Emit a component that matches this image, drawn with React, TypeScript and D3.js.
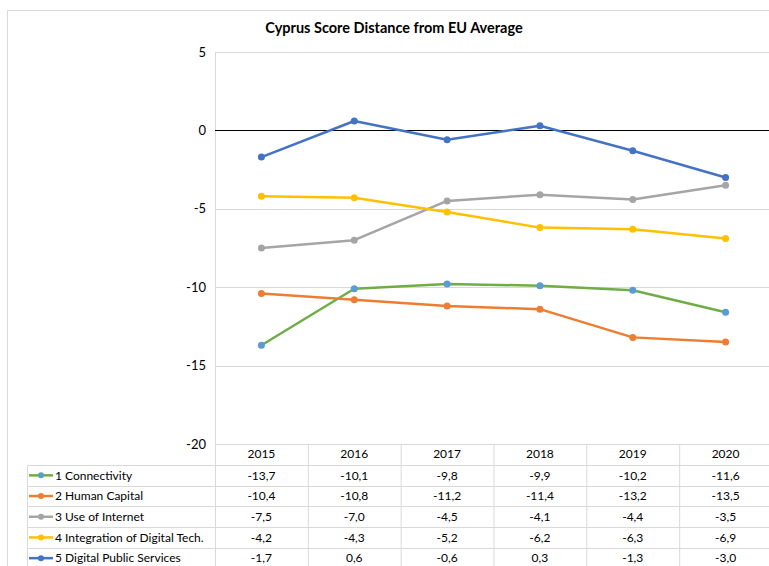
import React from "react";
import * as d3 from "d3";

const years = ["2015", "2016", "2017", "2018", "2019", "2020"];
const seriesNames = [
  "1 Connectivity",
  "2 Human Capital",
  "3 Use of Internet",
  "4 Integration of Digital Tech.",
  "5 Digital Public Services",
];
const connectivity = [-13.7, -10.1, -9.8, -9.9, -10.2, -11.6];
const humanCapital = [-10.4, -10.8, -11.2, -11.4, -13.2, -13.5];
const useOfInternet = [-7.5, -7.0, -4.5, -4.1, -4.4, -3.5];
const integration = [-4.2, -4.3, -5.2, -6.2, -6.3, -6.9];
const publicServices = [-1.7, 0.6, -0.6, 0.3, -1.3, -3.0];
const yTicks = [5, 0, -5, -10, -15, -20];

const lineColors = ["#70AD47", "#ED7D31", "#A5A5A5", "#FFC000", "#4472C4"];
const markerColors = ["#5B9BD5", "#ED7D31", "#A5A5A5", "#FFC000", "#4472C4"];

export default function App() {
  const W = 769, H = 566;
  const left = 215, right = 772;
  const top = 52, bottom = 444;
  const font = "Lato, 'Open Sans', sans-serif";
  const all = [connectivity, humanCapital, useOfInternet, integration, publicServices];

  const x = d3.scaleBand<string>().domain(years).range([left, right]);
  const y = d3.scaleLinear().domain([-20, 5]).range([bottom, top]);
  const cx = (yr: string) => (x(yr) as number) + x.bandwidth() / 2;

  const line = d3
    .line<number>()
    .x((_, i) => cx(years[i]))
    .y((d) => y(d));

  const tableLeft = 27;
  const rowH = 20.7;
  const headerBottom = 465;
  const fmt = (v: number) => v.toFixed(1).replace(".", ",");

  return (
    <svg
      width={W}
      height={H}
      style={{ position: "absolute", left: 0, top: 0, background: "#fff" }}
      fontFamily={font}
    >
      <rect x={0} y={0} width={W} height={H} fill="#fff" />
      {/* outer frame */}
      <line x1={7.5} y1={10.5} x2={W} y2={10.5} stroke="#d9d9d9" />
      <line x1={7.5} y1={10.5} x2={7.5} y2={H} stroke="#d9d9d9" />

      <text x={394} y={33} textAnchor="middle" fontSize={14.5} fontWeight="bold" fill="#000">
        Cyprus Score Distance from EU Average
      </text>

      {/* gridlines */}
      {yTicks.map((t) => (
        <g key={t}>
          {t !== 0 && (
            <line x1={left} x2={W} y1={Math.round(y(t)) + 0.5} y2={Math.round(y(t)) + 0.5} stroke="#d9d9d9" />
          )}
          <text x={206} y={y(t) + 4.5} textAnchor="end" fontSize={13} fill="#000">
            {t}
          </text>
        </g>
      ))}
      <line x1={left + 0.5} x2={left + 0.5} y1={top} y2={H} stroke="#d9d9d9" />

      {/* table */}
      {years.map((yr, i) => (
        <g key={yr}>
          <line
            x1={(x(yr) as number) + x.bandwidth() + 0.5}
            x2={(x(yr) as number) + x.bandwidth() + 0.5}
            y1={bottom}
            y2={H}
            stroke="#d9d9d9"
          />
          <text x={cx(yr)} y={458} textAnchor="middle" fontSize={12} fill="#000">
            {yr}
          </text>
        </g>
      ))}
      <line x1={tableLeft + 0.5} x2={tableLeft + 0.5} y1={headerBottom} y2={H} stroke="#d9d9d9" />
      {seriesNames.map((name, s) => {
        const rTop = headerBottom + s * rowH;
        const mid = rTop + rowH / 2;
        return (
          <g key={name}>
            <line x1={tableLeft} x2={W} y1={Math.round(rTop) + 0.5} y2={Math.round(rTop) + 0.5} stroke="#d9d9d9" />
            <line x1={29} x2={53} y1={mid} y2={mid} stroke={lineColors[s]} strokeWidth={2.5} />
            <circle cx={41} cy={mid} r={3} fill={markerColors[s]} />
            <text x={55} y={mid + 4.3} fontSize={12} fill="#000">
              {name}
            </text>
            {all[s].map((v, i) => (
              <text key={i} x={cx(years[i])} y={mid + 4.3} textAnchor="middle" fontSize={12} fill="#000">
                {fmt(v)}
              </text>
            ))}
          </g>
        );
      })}

      {/* zero line */}
      <line x1={left} x2={W} y1={Math.round(y(0)) + 0.5} y2={Math.round(y(0)) + 0.5} stroke="#000" strokeWidth={1} />

      {/* series */}
      {all.map((vals, s) => (
        <g key={s}>
          <path d={line(vals) as string} fill="none" stroke={lineColors[s]} strokeWidth={2.5} strokeLinejoin="round" />
          {vals.map((v, i) => (
            <circle key={i} cx={cx(years[i])} cy={y(v)} r={3.5} fill={markerColors[s]} />
          ))}
        </g>
      ))}
    </svg>
  );
}
